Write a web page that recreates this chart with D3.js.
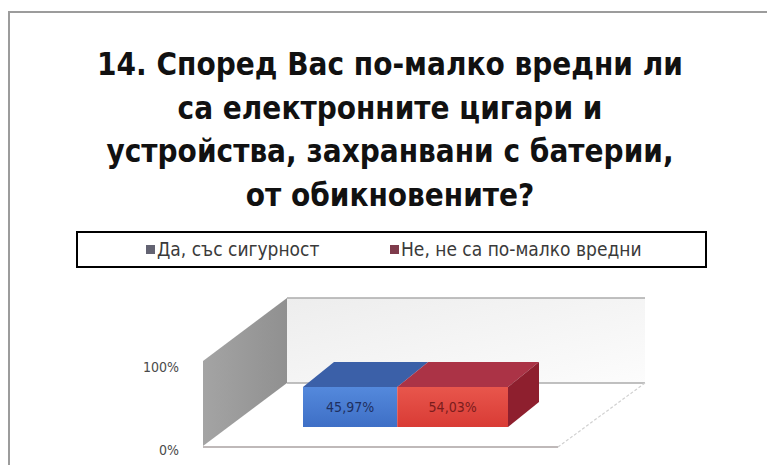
<!DOCTYPE html>
<html lang="bg">
  <head>
    <meta charset="UTF-8" />
    <title>14. Според Вас по-малко вредни ли са електронните цигари</title>
    <script src="https://cdn.jsdelivr.net/npm/d3@7"></script>
    <style>
      body { margin: 0; background: #fff; }
      svg { display: block; }
    </style>
  </head>
  <body>
    <script>
      const titleLines = [
        "14. Според Вас по-малко вредни ли",
        "са електронните цигари и",
        "устройства, захранвани с батерии,",
        "от обикновените?",
      ];
      const categories = ["Да, със сигурност", "Не, не са по-малко вредни"];
      const values = [45.97, 54.03];
      const legendColors = ["#636372", "#7e3b4b"];
      const frontColors = [["#5489dc", "#3e6fc6"], ["#e8564c", "#d93b35"]];
      const topColors = ["#3b60a8", "#ab3346"];
      const labelColors = ["#1e2f60", "#7a1c1c"];
      const yTickValues = [0, 100];

      const width = 767;
      const height = 465;
      const font = "'Liberation Sans Narrow', 'DejaVu Sans Condensed', 'Open Sans', sans-serif";

      const svg = d3
        .select("body")
        .append("svg")
        .attr("width", width)
        .attr("height", height);

      const defs = svg.append("defs");

      // outer frame (only top and left edges show)
      svg
        .append("path")
        .attr("d", "M9,465 V12 H767")
        .attr("fill", "none")
        .attr("stroke", "#9c9c9c")
        .attr("stroke-width", 2);

      // title, sized so the first line spans about 586px
      const title = svg
        .append("g")
        .attr("font-family", font)
        .attr("font-weight", "bold")
        .attr("fill", "#111")
        .attr("text-anchor", "middle");
      const probe = title.append("text").attr("font-size", 100).text(titleLines[0]);
      const titleSize = (100 * 586) / probe.node().getComputedTextLength();
      probe.remove();
      title
        .selectAll("text")
        .data(titleLines)
        .join("text")
        .attr("x", 390)
        .attr("y", (d, i) => 75 + i * 43.5)
        .attr("font-size", titleSize)
        .text((d) => d);

      // legend
      const legend = svg.append("g").attr("font-family", font);
      legend
        .append("rect")
        .attr("x", 77)
        .attr("y", 232)
        .attr("width", 629)
        .attr("height", 35)
        .attr("fill", "#fff")
        .attr("stroke", "#000")
        .attr("stroke-width", 2);

      const legendX = [146, 390];
      const legendItem = legend
        .selectAll("g")
        .data(categories)
        .join("g")
        .attr("transform", (d, i) => `translate(${legendX[i]},250)`);
      legendItem
        .append("rect")
        .attr("x", 0)
        .attr("y", -5)
        .attr("width", 9)
        .attr("height", 9)
        .attr("fill", (d, i) => legendColors[i]);
      legendItem
        .append("text")
        .attr("x", 11)
        .attr("y", 6)
        .attr("font-size", 19)
        .attr("fill", "#3a3a3a")
        .text((d) => d);

      // 3D walls and floor
      const wall = { x0: 287, x1: 645, top: 298, bottom: 383, dx: -84, dy: 63 };

      const backGrad = defs
        .append("linearGradient")
        .attr("id", "back")
        .attr("x1", 0)
        .attr("x2", 1)
        .attr("y1", 0)
        .attr("y2", 1);
      backGrad.append("stop").attr("offset", 0).attr("stop-color", "#ededed");
      backGrad.append("stop").attr("offset", 1).attr("stop-color", "#fcfcfc");

      const sideGrad = defs
        .append("linearGradient")
        .attr("id", "side")
        .attr("x1", 0)
        .attr("x2", 1)
        .attr("y1", 0)
        .attr("y2", 0);
      sideGrad.append("stop").attr("offset", 0).attr("stop-color", "#a4a4a4");
      sideGrad.append("stop").attr("offset", 1).attr("stop-color", "#909090");

      frontColors.forEach((c, i) => {
        const g = defs
          .append("linearGradient")
          .attr("id", "front" + i)
          .attr("x1", 0)
          .attr("x2", 0)
          .attr("y1", 0)
          .attr("y2", 1);
        g.append("stop").attr("offset", 0).attr("stop-color", c[0]);
        g.append("stop").attr("offset", 1).attr("stop-color", c[1]);
      });

      svg
        .append("rect")
        .attr("x", wall.x0)
        .attr("y", wall.top)
        .attr("width", wall.x1 - wall.x0)
        .attr("height", wall.bottom - wall.top)
        .attr("fill", "url(#back)");
      svg
        .append("line")
        .attr("x1", wall.x0)
        .attr("x2", wall.x1)
        .attr("y1", wall.top)
        .attr("y2", wall.top)
        .attr("stroke", "#ababab")
        .attr("stroke-width", 1.5);
      svg
        .append("line")
        .attr("x1", wall.x0)
        .attr("x2", wall.x1)
        .attr("y1", wall.bottom)
        .attr("y2", wall.bottom)
        .attr("stroke", "#ababab")
        .attr("stroke-width", 1.5);

      svg
        .append("polygon")
        .attr(
          "points",
          [
            [wall.x0 + wall.dx, wall.top + wall.dy],
            [wall.x0, wall.top],
            [wall.x0, wall.bottom],
            [wall.x0 + wall.dx, wall.bottom + wall.dy],
          ].join(" ")
        )
        .attr("fill", "url(#side)");

      // floor edges
      svg
        .append("line")
        .attr("x1", wall.x0 + wall.dx)
        .attr("x2", wall.x1 + wall.dx - 3)
        .attr("y1", wall.bottom + wall.dy + 1)
        .attr("y2", wall.bottom + wall.dy + 1)
        .attr("stroke", "#aaa2a2")
        .attr("stroke-width", 1.5);
      svg
        .append("line")
        .attr("x1", wall.x1)
        .attr("y1", wall.bottom)
        .attr("x2", wall.x1 + wall.dx - 3)
        .attr("y2", wall.bottom + wall.dy + 1)
        .attr("stroke", "#d0d0d0")
        .attr("stroke-width", 1.2)
        .attr("stroke-dasharray", "3,2");

      // y axis labels
      const y = d3
        .scaleLinear()
        .domain([0, 100])
        .range([wall.bottom + wall.dy + 4, wall.top + wall.dy + 6]);
      svg
        .append("g")
        .attr("font-family", font)
        .attr("font-size", 14)
        .attr("fill", "#4a4a4a")
        .attr("text-anchor", "end")
        .selectAll("text")
        .data(yTickValues)
        .join("text")
        .attr("x", 179)
        .attr("y", (d) => y(d) + 5)
        .text((d) => d + "%");

      // stacked 3D bar
      const x = d3.scaleLinear().domain([0, 100]).range([303, 508]);
      const barTop = 387;
      const barBottom = 427;
      const bdx = 31;
      const bdy = -25;
      const stacked = values.map((v, i) => {
        const start = d3.sum(values.slice(0, i));
        return { v, i, x0: x(start), x1: x(start + v) };
      });

      const bar = svg.append("g");
      bar
        .selectAll(".top")
        .data(stacked)
        .join("polygon")
        .attr("class", "top")
        .attr("points", (d) =>
          [
            [d.x0, barTop],
            [d.x0 + bdx, barTop + bdy],
            [d.x1 + bdx, barTop + bdy],
            [d.x1, barTop],
          ].join(" ")
        )
        .attr("fill", (d) => topColors[d.i]);

      const last = stacked[stacked.length - 1];
      bar
        .append("polygon")
        .attr(
          "points",
          [
            [last.x1, barTop],
            [last.x1 + bdx, barTop + bdy],
            [last.x1 + bdx, barBottom + bdy],
            [last.x1, barBottom],
          ].join(" ")
        )
        .attr("fill", "#8e1f2e");

      bar
        .selectAll(".front")
        .data(stacked)
        .join("rect")
        .attr("class", "front")
        .attr("x", (d) => d.x0)
        .attr("y", barTop)
        .attr("width", (d) => d.x1 - d.x0)
        .attr("height", barBottom - barTop)
        .attr("fill", (d) => `url(#front${d.i})`);

      const fmt = (v) => d3.format(".2f")(v).replace(".", ",") + "%";
      bar
        .selectAll(".label")
        .data(stacked)
        .join("text")
        .attr("class", "label")
        .attr("x", (d) => (d.x0 + d.x1) / 2)
        .attr("y", (barTop + barBottom) / 2 + 5)
        .attr("text-anchor", "middle")
        .attr("font-family", font)
        .attr("font-size", 14)
        .attr("fill", (d) => labelColors[d.i])
        .text((d) => fmt(d.v));
    </script>
  </body>
</html>
